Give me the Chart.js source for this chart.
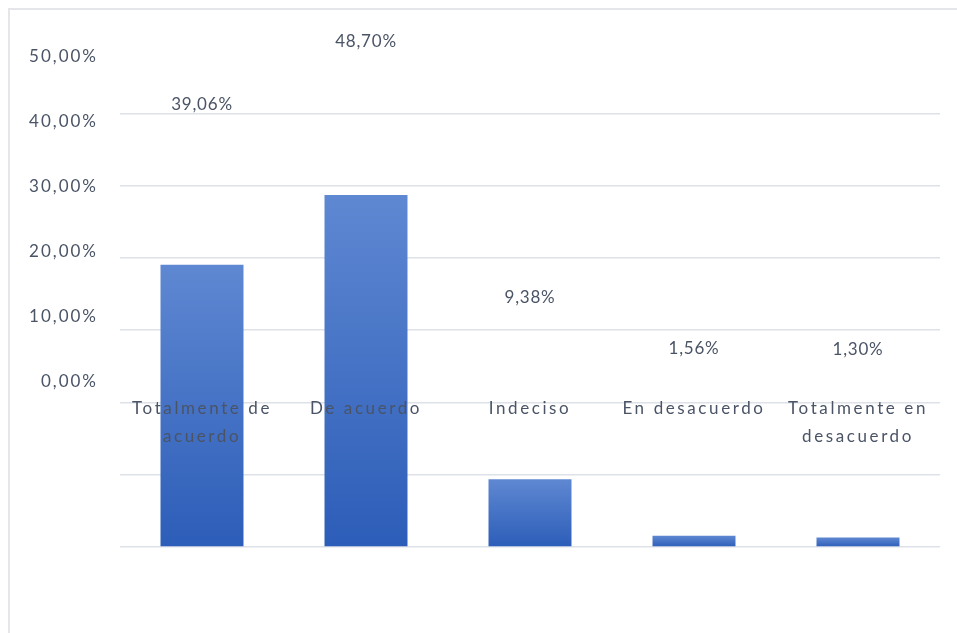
<!DOCTYPE html>
<html>
<head>
<meta charset="utf-8">
<script src="https://cdn.jsdelivr.net/npm/chart.js@4/dist/chart.umd.min.js"></script>
<style>
  html, body { margin: 0; padding: 0; background: #fff; }
  #wrap { width: 957px; height: 633px; }
</style>
</head>
<body>
<div id="wrap"><canvas id="respuestas"></canvas></div>
<script>
const categories = [['Totalmente de', 'acuerdo'], 'De acuerdo', 'Indeciso', 'En desacuerdo', ['Totalmente en', 'desacuerdo']];
const percentages = [39.06, 48.70, 9.38, 1.56, 1.30];
const percentTicks = [0, 10, 20, 30, 40, 50];

const textColor = '#4a5466';
const fmt = v => v.toFixed(2).replace('.', ',') + '%';

// frame, value labels and category labels
const labelsPlugin = {
  id: 'labels',
  beforeDraw(chart) {
    const ctx = chart.ctx;
    ctx.save();
    ctx.strokeStyle = '#e4e6ea';
    ctx.lineWidth = 2;
    ctx.beginPath();
    ctx.moveTo(9, chart.height);
    ctx.lineTo(9, 9);
    ctx.lineTo(chart.width, 9);
    ctx.stroke();
    ctx.restore();
    ctx.letterSpacing = '2px';
  },
  afterDatasetsDraw(chart) {
    const ctx = chart.ctx;
    const yt = chart.scales.yt;
    const meta = chart.getDatasetMeta(0);
    ctx.save();
    ctx.fillStyle = textColor;
    ctx.textAlign = 'center';
    ctx.textBaseline = 'middle';
    ctx.font = '17px Lato';

    ctx.letterSpacing = '0.8px';
    percentages.forEach((v, i) => {
      ctx.fillText(fmt(v), meta.data[i].x, yt.getPixelForValue(v) - 23.5);
    });

    ctx.letterSpacing = '2.6px';
    const y0 = yt.getPixelForValue(0);
    categories.forEach((c, i) => {
      const lines = Array.isArray(c) ? c : [c];
      lines.forEach((line, j) => {
        ctx.fillText(line, meta.data[i].x, y0 + 27 + j * 28);
      });
    });
    ctx.restore();
  }
};

const barFill = (c) => {
  const chart = c.chart;
  if (!chart.chartArea || c.raw == null) return '#4472c4';
  const y = chart.scales.y;
  const top = y.getPixelForValue(c.raw);
  const base = y.getPixelForValue(0);
  const g = chart.ctx.createLinearGradient(0, top, 0, base);
  g.addColorStop(0, '#5f88d2');
  g.addColorStop(1, '#2c5db8');
  return g;
};

// fixed axis widths, no extra label padding above/below the plot
const fixWidth = w => s => {
  s.width = w;
  s.paddingTop = 0;
  s.paddingBottom = 0;
};

new Chart(document.getElementById('respuestas'), {
  type: 'bar',
  data: {
    labels: categories,
    datasets: [{
      data: percentages,
      backgroundColor: barFill,
      borderWidth: 0,
      categoryPercentage: 1,
      barPercentage: 0.506
    }]
  },
  options: {
    responsive: true,
    maintainAspectRatio: false,
    animation: false,
    layout: { padding: { left: 0, right: 17, top: 30, bottom: 86 } },
    plugins: { legend: { display: false }, tooltip: { enabled: false } },
    scales: {
      x: { display: false },
      y: {
        position: 'right',
        min: 0,
        max: 71.53,
        ticks: { display: false, stepSize: 10 },
        grid: {
          drawTicks: false,
          lineWidth: 1.6,
          color: c => (c.tick && c.tick.value > 60.5) ? 'rgba(0,0,0,0)' : '#dde1e8'
        },
        border: { display: false },
        afterFit: fixWidth(0)
      },
      yt: {
        position: 'left',
        min: -25.4,
        max: 54.15,
        afterBuildTicks: s => { s.ticks = percentTicks.map(v => ({ value: v })); },
        ticks: {
          padding: 22,
          color: textColor,
          font: { family: 'Lato', size: 17 },
          callback: v => fmt(v)
        },
        grid: { display: false, drawTicks: false },
        border: { display: false },
        afterFit: fixWidth(120)
      }
    }
  },
  plugins: [labelsPlugin]
});
</script>
</body>
</html>
